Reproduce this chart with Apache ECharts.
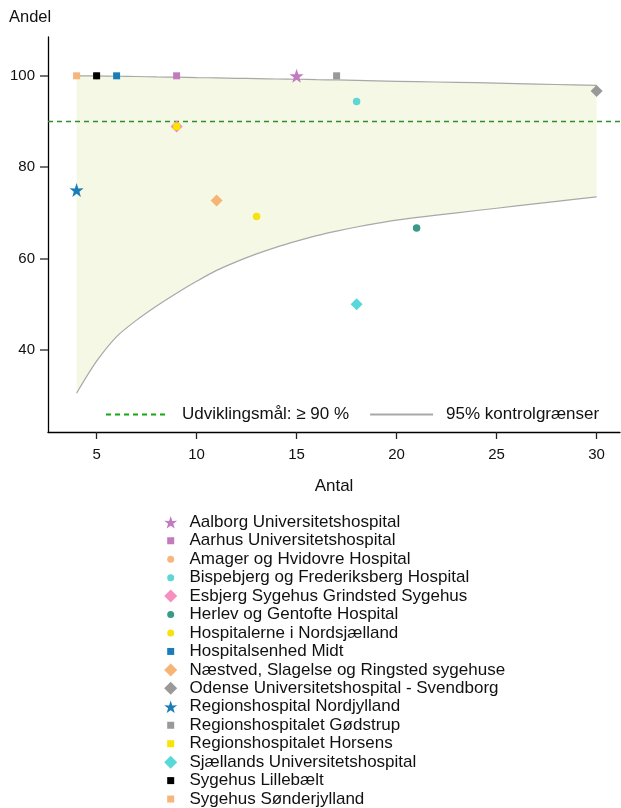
<!DOCTYPE html>
<html><head><meta charset="utf-8">
<script src="https://cdn.jsdelivr.net/npm/echarts@6/dist/echarts.min.js"></script>
<style>html,body{margin:0;padding:0;background:#fff}#c{width:621px;height:808px}</style>
</head><body><div id="c"></div>
<script>
// ---- data ----
const hospitals = [
  'Aalborg Universitetshospital',
  'Aarhus Universitetshospital',
  'Amager og Hvidovre Hospital',
  'Bispebjerg og Frederiksberg Hospital',
  'Esbjerg Sygehus Grindsted Sygehus',
  'Herlev og Gentofte Hospital',
  'Hospitalerne i Nordsjælland',
  'Hospitalsenhed Midt',
  'Næstved, Slagelse og Ringsted sygehuse',
  'Odense Universitetshospital - Svendborg',
  'Regionshospital Nordjylland',
  'Regionshospitalet Gødstrup',
  'Regionshospitalet Horsens',
  'Sjællands Universitetshospital',
  'Sygehus Lillebælt',
  'Sygehus Sønderjylland'
];
const antal = [15, 9, 5, 18, 9, 21, 13, 6, 11, 30, 4, 17, 9, 18, 5, 4];
const andel = [100, 100, 100, 94.4, 88.9, 66.7, 69.2, 100, 72.7, 96.7, 75, 100, 88.9, 50, 100, 100];
const markerType = ['star','square','circle','circle','diamond','circle','circle','square','diamond','diamond','star','square','square','diamond','square','square'];
const markerColor = ['#c27bc0','#c27bbd','#f8b57c','#5dd6d6','#f58fc0','#3a9a88','#f6e20e','#1b7db8','#f6b475','#999999','#1b7db8','#999999','#f7e400','#58d8d8','#000000','#f5b57b'];

const limitN     = [4, 5, 6, 7, 8, 9, 10, 11, 12, 13, 14, 15, 16, 17, 18, 19, 20, 22, 24, 26, 28, 30];
const lowerLimit = [30.5, 37.5, 42.9, 46.5, 49.6, 52.4, 55.0, 57.4, 59.3, 61.0, 62.5, 63.8, 65.0, 66.0, 66.9, 67.7, 68.4, 69.5, 70.5, 71.5, 72.5, 73.5];
const upperLimit = [100, 100, 99.9, 99.85, 99.75, 99.7, 99.6, 99.55, 99.45, 99.4, 99.3, 99.25, 99.15, 99.1, 99.0, 98.9, 98.8, 98.65, 98.5, 98.3, 98.1, 97.9];

const goal = 90;
const goalName = 'Udviklingsmål: ≥ 90 %';
const limitName = '95% kontrolgrænser';
const xTicks = [5, 10, 15, 20, 25, 30];
const yTicks = [40, 60, 80, 100];

// ---- styling ----
const FONT = '"Liberation Sans", Arial, sans-serif';
const STAR = 'path://M50,0 L61.8,35.1 L97.6,34.5 L69.1,56.7 L79.4,90.5 L50,70 L20.6,90.5 L30.9,56.7 L2.4,34.5 L38.2,35.1 Z';
const symMap = {star: STAR, square: 'rect', circle: 'circle', diamond: 'diamond'};
const plotSize = {star: 14, square: 7, circle: 7.5, diamond: 12};
const legSize = {star: 13, square: 7, circle: 7, diamond: 13};

const chart = echarts.init(document.getElementById('c'), null, {renderer: 'canvas'});

const series = [];
// band
series.push({
  type: 'custom',
  silent: true,
  z: 1,
  data: [0],
  renderItem: function (params, api) {
    const pts = [];
    for (let i = 0; i < limitN.length; i++) pts.push(api.coord([limitN[i], upperLimit[i]]));
    for (let i = limitN.length - 1; i >= 0; i--) pts.push(api.coord([limitN[i], lowerLimit[i]]));
    return {type: 'polygon', shape: {points: pts}, style: {fill: '#f5f8e4', stroke: null}};
  }
});
// limit lines
[upperLimit, lowerLimit].forEach(function (arr) {
  series.push({
    type: 'line', name: limitName, silent: true, z: 2,
    symbol: 'none', smooth: 0.3,
    itemStyle: {color: '#a8a8a8'},
    lineStyle: {color: '#a8a8a8', width: 1.2},
    data: limitN.map(function (n, i) { return [n, arr[i]]; })
  });
});
// goal line
series.push({
  type: 'line', name: goalName, data: [], symbol: 'none', z: 3,
  itemStyle: {color: '#2a9a2a'},
  lineStyle: {color: '#14a814', type: [5, 4], width: 1.3},
  markLine: {
    silent: true, symbol: 'none', label: {show: false},
    lineStyle: {color: '#2f8f2f', type: [5, 4], width: 1.4, opacity: 1},
    data: [{yAxis: goal}]
  }
});
// hospitals
hospitals.forEach(function (h, i) {
  series.push({
    type: 'scatter', name: h, z: 5,
    symbol: symMap[markerType[i]],
    symbolSize: plotSize[markerType[i]],
    itemStyle: {color: markerColor[i], opacity: 1},
    data: [[antal[i], andel[i]]]
  });
});

const legends = [{
  data: [
    {name: goalName, itemStyle: {opacity: 0}},
    {name: limitName, itemStyle: {opacity: 0}}
  ],
  left: 105, top: 406, padding: 0,
  itemWidth: 63, itemHeight: 12, itemGap: 20,
  selectedMode: false,
  textStyle: {fontFamily: FONT, fontSize: 17, color: '#111', padding: [0, 0, 0, 8]}
}];
hospitals.forEach(function (h, i) {
  const t = markerType[i];
  const w = legSize[t];
  legends.push({
    data: [{name: h, icon: symMap[t]}],
    orient: 'vertical',
    left: 170.7 - w / 2, top: 522.3 + i * 18.45 - 9,
    padding: 0,
    itemWidth: w, itemHeight: w,
    selectedMode: false,
    textStyle: {fontFamily: FONT, fontSize: 17, color: '#111', lineHeight: 18,
      padding: [0, 0, 0, 13.8 - w / 2]}
  });
});

chart.setOption({
  animation: false,
  backgroundColor: '#fff',
  title: {text: 'Andel', left: 9, top: 9, padding: 0,
    textStyle: {fontFamily: FONT, fontSize: 16.5, fontWeight: 'normal', color: '#111'}},
  grid: {left: 48, top: 37, width: 572, height: 395},
  xAxis: {
    type: 'value', min: 2.57, max: 31.17,
    name: 'Antal', nameLocation: 'middle', nameGap: 46,
    nameTextStyle: {fontFamily: FONT, fontSize: 17, color: '#111'},
    axisLine: {show: true, onZero: false, lineStyle: {color: '#000', width: 1.3}},
    axisTick: {show: true, length: 7, customValues: xTicks, lineStyle: {color: '#222', width: 1.3}},
    axisLabel: {customValues: xTicks, margin: 15, fontFamily: FONT, fontSize: 15, color: '#111'},
    splitLine: {show: false}
  },
  yAxis: {
    type: 'value', min: 22, max: 108.5,
    axisLine: {show: true, onZero: false, lineStyle: {color: '#000', width: 1.3}},
    axisTick: {show: true, length: 8, customValues: yTicks, lineStyle: {color: '#444', width: 1.5}},
    axisLabel: {customValues: yTicks, margin: 13, fontFamily: FONT, fontSize: 15, color: '#111'},
    splitLine: {show: false}
  },
  legend: legends,
  series: series
});
</script>
</body></html>
